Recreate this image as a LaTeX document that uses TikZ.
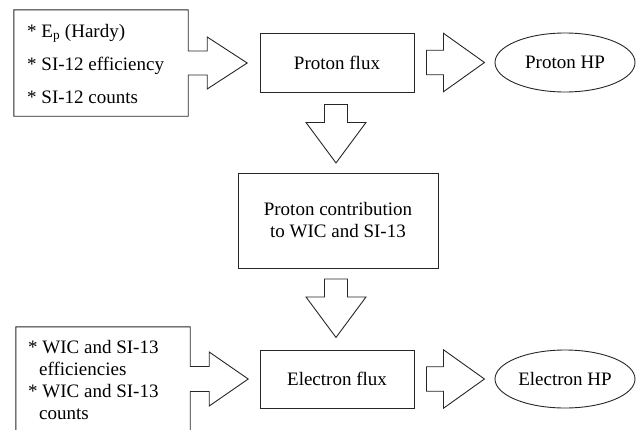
\documentclass[tikz,border=0pt]{standalone}
\usepackage{fontspec}
\setmainfont{Liberation Serif}
\usetikzlibrary{calc,shapes.geometric}
\begin{document}
\begin{tikzpicture}[x=1pt,y=-1pt,
  line/.style={draw=black!85, line width=0.9pt, line join=miter},
  lbl/.style={font=\fontsize{19}{22}\selectfont},
  box/.style={line, lbl, rectangle, inner sep=0pt, align=center},
  oval/.style={line, lbl, ellipse, inner sep=0pt},
  txt/.style={lbl, inner sep=0pt, anchor=base west},
  rarr/.pic={\draw[line] (0,-12.25) -- (17,-12.25) -- (17,-29.25) -- (58,0) -- (17,29.25) -- (17,12.25) -- (0,12.25) -- cycle;},
  darr/.pic={\draw[line] (-11.5,0) -- (-11.5,18) -- (-30,18) -- (0,58.5) -- (30,18) -- (11.5,18) -- (11.5,0) -- cycle;}]
\useasboundingbox (0,0) rectangle (642,429);
\clip (0,0) rectangle (642,429);

% main boxes
\node[box, minimum width=154pt, minimum height=59pt] (pflux) at (337,62.5) {Proton flux};
\node[oval, minimum width=140pt, minimum height=59pt] (php) at (565,62.5) {Proton HP};
\node[box, minimum width=200pt, minimum height=95pt] (pcont) at (338,220.5) {Proton contribution\\to WIC and SI-13};
\node[box, minimum width=154pt, minimum height=58pt] (eflux) at (337,379) {Electron flux};
\node[oval, minimum width=140pt, minimum height=58pt] (ehp) at (565,379) {Electron HP};

% input box 1 with merged arrow
\node[minimum width=174pt, minimum height=106pt, inner sep=0pt] (pin) at (101,63) {};
\draw[line] (pin.north east) -- ($(pin.east)+(0,-12)$) -- ++(19,0) -- ++(0,-14)
  -- ($(pin.east)+(59,0)$) -- ($(pin.east)+(19,26)$) -- ++(0,-14)
  -- ($(pin.east)+(0,12)$) -- (pin.south east) -- (pin.south west) -- (pin.north west) -- cycle;
\node[txt] (pin1) at (27,37) {* E\textsubscript{p} (Hardy)};
\node[txt] (pin2) at (27,70) {* SI-12 efficiency};
\node[txt] (pin3) at (27,103.5) {* SI-12 counts};

% input box 2 with merged arrow
\node[minimum width=174pt, minimum height=104pt, inner sep=0pt] (ein) at (103,379) {};
\draw[line] (ein.north east) -- ($(ein.east)+(0,-12.5)$) -- ++(19,0) -- ++(0,-14.5)
  -- ($(ein.east)+(58,0)$) -- ($(ein.east)+(19,27)$) -- ++(0,-14.5)
  -- ($(ein.east)+(0,12.5)$) -- (ein.south east) -- (ein.south west) -- (ein.north west) -- cycle;
\node[txt] (ein1) at (28,353.5) {* WIC and SI-13};
\node[txt] (ein2) at (39,375.5) {efficiencies};
\node[txt] (ein3) at (28,397.5) {* WIC and SI-13};
\node[txt] (ein4) at (39,419.5) {counts};

% block arrows
\pic at ($(pflux.east)+(12,0)$) {rarr};
\pic at ($(eflux.east)+(12,0)$) {rarr};
\pic at ($(pflux.south)+(-1,12)$) {darr};
\pic at ($(pcont.south)+(-2,10.5)$) {darr};
\end{tikzpicture}
\end{document}
